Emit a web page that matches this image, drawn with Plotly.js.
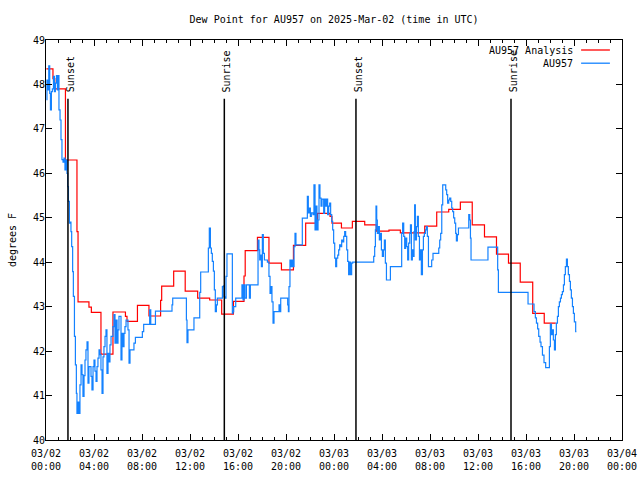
<!DOCTYPE html>
<html>
<head>
<meta charset="utf-8">
<script src="https://cdn.plot.ly/plotly-3.0.1.min.js"></script>
<style>html,body{margin:0;padding:0;background:#fff;}#chart{width:640px;height:480px;}</style>
</head>
<body>
<div id="chart"></div>
<script>
// Hours since 2025-03-02 00:00 UTC
const blueHours = [0.03,0.08,0.14,0.23,0.31,0.37,0.45,0.53,0.62,0.7,0.78,0.87,0.95,1.0,1.08,1.17,1.25,1.33,1.42,1.5,1.58,1.67,1.75,1.81,1.87,1.95,2.03,2.08,2.14,2.22,2.28,2.37,2.45,2.53,2.58,2.67,2.75,2.83,2.92,3.0,3.08,3.17,3.25,3.33,3.42,3.5,3.58,3.75,3.83,3.92,4.0,4.08,4.17,4.25,4.33,4.42,4.5,4.58,4.67,4.75,4.83,4.92,5.0,5.08,5.17,5.25,5.33,5.42,5.58,5.67,5.75,5.83,5.92,6.0,6.08,6.25,6.33,6.42,6.5,6.58,6.67,6.83,6.92,7.0,7.33,7.45,8.03,8.14,8.64,8.73,9.12,10.5,10.56,11.7,11.75,11.83,12.33,12.81,12.89,13.53,13.61,13.7,13.78,13.86,13.95,14.03,14.11,14.2,14.28,14.7,14.78,14.83,14.92,15.0,15.08,15.53,15.58,15.64,15.81,16.33,16.42,16.5,16.58,16.7,16.95,17.03,17.67,17.75,17.81,17.89,17.95,18.03,18.11,18.2,18.45,18.58,18.67,18.75,18.83,18.92,19.0,19.42,19.47,19.56,20.14,20.2,20.25,20.33,20.42,20.5,20.58,20.67,20.75,20.83,21.36,21.78,21.86,21.95,22.03,22.11,22.25,22.33,22.42,22.5,22.58,22.67,22.75,22.83,22.92,23.0,23.14,23.22,23.31,23.39,23.47,23.56,23.64,23.72,23.81,23.89,23.97,24.06,24.14,24.22,24.31,24.39,24.47,24.56,24.64,24.72,24.81,24.89,24.97,25.06,25.14,25.22,25.31,25.39,25.47,25.56,27.31,27.39,27.45,27.5,27.56,27.61,27.7,27.78,27.87,27.95,28.03,28.12,28.2,28.28,28.37,28.7,29.64,29.72,29.81,29.89,29.97,30.06,30.14,30.22,30.31,30.37,30.45,30.53,30.62,30.67,30.72,30.78,30.87,30.95,31.03,31.12,31.2,31.28,31.37,31.45,31.53,31.62,31.7,31.78,31.87,32.14,32.25,32.73,32.81,32.89,32.98,33.06,33.31,33.39,33.47,33.56,33.64,33.73,33.81,33.89,33.97,34.06,34.14,34.2,34.28,34.37,35.23,35.31,35.37,35.42,36.83,37.64,37.7,40.17,40.67,40.78,40.87,40.97,41.06,41.17,41.25,41.37,41.5,41.64,41.95,42.03,42.12,42.2,42.28,42.37,42.45,42.53,42.62,42.7,42.78,42.87,42.95,43.03,43.12,43.2,43.28,43.37,43.45,43.53,43.62,43.7,43.78,43.87,43.95,44.03,44.14,44.2];
const blueDew = [47.66,48.1,47.88,48.42,47.8,47.43,47.84,47.9,48.18,47.84,48.03,48.2,47.88,48.2,47.43,47.2,46.76,46.31,46.25,46.34,46.08,46.3,46.0,45.7,45.37,44.88,44.9,44.69,44.35,43.79,43.23,42.33,41.69,41.05,40.6,40.85,40.6,41.24,41.69,41.47,40.98,41.45,41.8,42.03,42.21,41.28,41.65,41.43,41.13,41.65,41.8,41.55,41.32,41.65,41.84,42.03,41.92,41.58,41.05,41.87,42.1,42.33,42.48,41.5,41.95,41.76,42.14,42.33,42.55,42.82,42.18,42.7,42.18,42.48,42.78,41.8,42.4,42.1,42.4,42.55,42.7,42.48,41.73,42.03,42.18,42.31,42.44,42.6,42.93,42.6,42.9,43.04,43.19,42.7,42.19,42.48,42.75,43.32,43.78,44.32,44.77,44.32,44.2,44.02,43.8,43.38,42.89,43.04,43.19,43.45,43.47,43.22,43.19,43.68,44.19,42.85,42.89,43.0,43.19,43.49,43.15,43.49,43.19,43.49,43.19,43.49,44.5,44.28,44.05,44.16,43.9,44.62,44.2,44.05,44.0,43.68,43.3,43.45,43.11,42.63,42.89,43.04,42.89,43.19,43.04,42.89,43.45,44.05,43.9,44.05,43.9,44.35,44.65,44.39,44.99,45.48,45.11,45.22,45.03,45.11,45.07,45.74,44.73,45.26,44.73,44.95,45.74,45.44,45.26,45.42,45.1,45.42,45.26,45.42,45.07,45.26,45.33,45.07,44.92,44.73,44.43,44.09,43.9,44.09,44.16,44.28,44.39,44.35,44.5,44.46,44.58,44.69,44.58,44.28,44.02,43.72,44.0,43.72,43.98,44.0,44.13,44.35,44.73,45.26,44.95,44.65,44.8,44.5,44.65,44.28,44.13,44.28,44.5,43.98,43.6,43.9,44.65,44.88,44.58,44.31,44.54,44.35,44.05,44.43,44.65,44.84,44.05,44.28,44.13,44.69,45.29,44.5,44.8,45.03,44.58,44.05,44.28,43.72,44.28,44.58,44.65,44.73,44.8,44.58,43.9,44.05,44.2,44.32,44.5,44.65,45.29,45.74,45.63,45.52,45.33,45.4,45.44,45.37,45.22,45.14,45.0,44.88,44.65,44.48,44.62,44.77,45.07,44.95,44.54,44.05,44.34,43.83,43.32,43.06,42.89,42.75,42.63,42.5,42.33,42.2,42.1,41.91,41.74,41.63,42.1,42.61,42.37,42.48,42.25,42.03,42.37,42.63,42.78,43.0,43.11,43.19,43.27,43.34,43.49,43.72,43.9,44.07,43.9,43.72,43.57,43.38,43.19,43.0,42.85,42.66,42.44,42.44];

const redHours = [0.03,0.58,0.73,1.62,2.58,2.67,3.58,3.78,4.58,5.58,6.62,6.75,7.62,8.58,9.55,9.64,10.64,11.6,12.64,13.64,14.64,15.62,16.5,16.6,17.62,18.58,19.62,20.62,21.64,22.62,23.67,23.83,24.62,25.53,26.56,27.53,28.58,29.53,31.56,32.56,33.56,34.53,35.52,36.54,37.54,38.54,39.52,40.56,41.52,42.48];
const redDew = [48.35,48.13,47.9,46.3,44.69,43.11,42.99,42.87,41.93,42.88,42.78,42.67,43.03,42.79,43.14,43.46,43.8,43.35,43.19,43.15,42.83,43.12,43.69,44.26,44.56,43.98,43.83,44.38,44.88,45.1,45.03,44.88,44.77,44.92,44.84,44.7,44.72,44.66,44.81,45.13,45.19,45.35,44.84,44.57,44.18,43.98,43.55,42.85,42.63,42.63];

const sunHours = [1.83, 14.86, 25.83, 38.75];
const sunLabels = ["Sunset", "Sunrise", "Sunset", "Sunrise"];

const xTickVals = [0,4,8,12,16,20,24,28,32,36,40,44,48];
const xTickText = ["03/02<br>00:00","03/02<br>04:00","03/02<br>08:00","03/02<br>12:00","03/02<br>16:00","03/02<br>20:00","03/03<br>00:00","03/03<br>04:00","03/03<br>08:00","03/03<br>12:00","03/03<br>16:00","03/03<br>20:00","03/04<br>00:00"];

const seriesNames = ["AU957 Analysis", "AU957"];
const RED = "rgb(255,0,0)";
const BLUE = "rgb(20,130,255)";
const FONT = "DejaVu Sans Mono";

const traces = [
  {x: redHours, y: redDew, name: seriesNames[0], mode: "lines", line: {shape: "hv", color: RED, width: 1.2}, showlegend: false},
  {x: blueHours, y: blueDew, name: seriesNames[1], mode: "lines", line: {shape: "hv", color: BLUE, width: 1.2}, showlegend: false}
];

const shapes = sunHours.map(h => ({type: "line", xref: "x", yref: "y", x0: h, x1: h, y0: 40, y1: 47.68, line: {color: "black", width: 1.5}}));
const annotations = sunHours.map((h, i) => ({xref: "x", yref: "y", x: h, y: 47.78, text: sunLabels[i], textangle: -90, showarrow: false, xanchor: "center", yanchor: "bottom", xshift: 2, font: {family: FONT, size: 10, color: "black"}}));

// legend (text left of sample line, as in the reference)
const legendRows = [{text: seriesNames[0], color: RED, y: 0.975}, {text: seriesNames[1], color: BLUE, y: 0.942}];
legendRows.forEach(r => {
  annotations.push({xref: "paper", yref: "paper", x: 0.918, y: r.y, text: r.text, showarrow: false, xanchor: "right", yanchor: "middle", font: {family: FONT, size: 10, color: "black"}});
  shapes.push({type: "line", xref: "paper", yref: "paper", x0: 0.929, x1: 0.979, y0: r.y, y1: r.y, line: {color: r.color, width: 1.3}});
});

const axisCommon = {
  showline: true, linecolor: "black", linewidth: 1, mirror: "allticks",
  ticks: "inside", ticklen: 6, tickcolor: "black", tickwidth: 1,
  showgrid: false, zeroline: false,
  tickfont: {family: FONT, size: 10, color: "black"}
};

const layout = {
  width: 640, height: 480,
  margin: {l: 46, r: 18, t: 40, b: 40, pad: 0},
  paper_bgcolor: "white", plot_bgcolor: "white",
  showlegend: false,
  title: {text: "Dew Point for AU957 on 2025-Mar-02 (time in UTC)", font: {family: FONT, size: 10, color: "black"}, x: 0.522, xanchor: "center", y: 0.96, yanchor: "middle", yref: "container"},
  xaxis: Object.assign({}, axisCommon, {
    range: [0, 48], tickmode: "array", tickvals: xTickVals, ticktext: xTickText,
    ticklabelstandoff: 4,
    minor: {tickmode: "linear", tick0: 0, dtick: 1, ticks: "inside", ticklen: 3, tickcolor: "black", showgrid: false}
  }),
  yaxis: Object.assign({}, axisCommon, {
    range: [40, 49], tickmode: "linear", tick0: 40, dtick: 1,
    ticklabelstandoff: -2,
    title: {text: "degrees F", font: {family: FONT, size: 10, color: "black"}, standoff: 14}
  }),
  shapes: shapes,
  annotations: annotations
};

Plotly.newPlot("chart", traces, layout, {displayModeBar: false, staticPlot: true});
</script>
</body>
</html>
